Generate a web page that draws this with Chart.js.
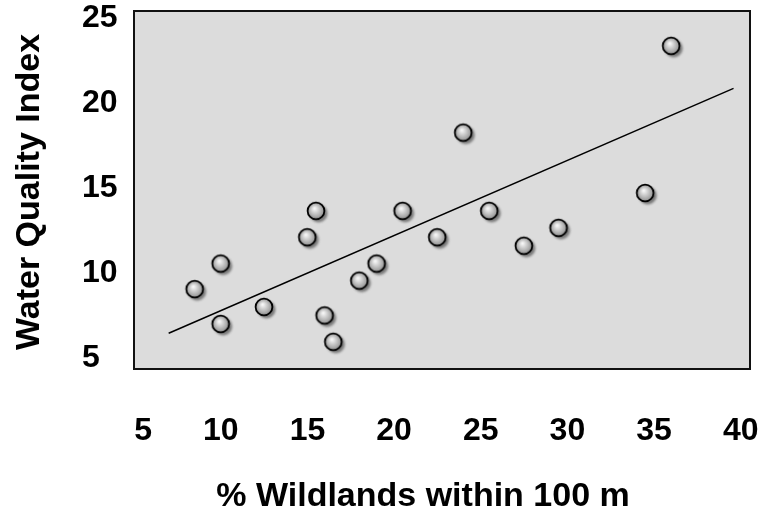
<!DOCTYPE html>
<html>
<head>
<meta charset="utf-8">
<script src="https://cdn.jsdelivr.net/npm/chart.js@4.4.1/dist/chart.umd.min.js"></script>
<style>
  body { margin: 0; background: #fff; }
  #wrap { width: 768px; height: 514px; }
</style>
</head>
<body>
<div id="wrap"><canvas id="chart"></canvas></div>
<script>
var wildlands = [8.5, 10, 10, 12.5, 15, 15.5, 16, 16.5, 18, 19, 20.5, 22.5, 24, 25.5, 27.5, 29.5, 34.5, 36];
var quality = [9.05, 10.55, 7, 8, 12.1, 13.65, 7.5, 5.95, 9.55, 10.55, 13.65, 12.1, 18.25, 13.65, 11.6, 12.65, 14.7, 23.35];
var trendX = [7, 39.6];
var trendY = [6.45, 20.85];
var xTicks = [5, 10, 15, 20, 25, 30, 35, 40];
var yTicks = [5, 10, 15, 20, 25];
var xTitle = '% Wildlands within 100 m';
var yTitle = 'Water Quality Index';

var FONT = '"Liberation Sans", Arial, sans-serif';

// shaded ball with a soft drop shadow, used as the point style
function makeBall() {
	var c = document.createElement('canvas');
	c.width = 30;
	c.height = 30;
	var g = c.getContext('2d');
	g.filter = 'blur(1px)';
	g.fillStyle = 'rgba(90,90,90,0.75)';
	g.beginPath();
	g.arc(17.5, 17.5, 9, 0, Math.PI * 2);
	g.fill();
	g.filter = 'none';
	var grad = g.createRadialGradient(13.5, 12.5, 0.5, 15, 15, 9);
	grad.addColorStop(0, '#f8f8f8');
	grad.addColorStop(1, '#8a8a8a');
	g.fillStyle = grad;
	g.beginPath();
	g.arc(15, 15, 8.4, 0, Math.PI * 2);
	g.fill();
	g.lineWidth = 1.8;
	g.strokeStyle = '#000';
	g.stroke();
	return c;
}

var points = [];
for (var i in wildlands) {
	points.push({x: wildlands[i], y: quality[i]});
}
var trend = [];
for (var j in trendX) {
	trend.push({x: trendX[j], y: trendY[j]});
}

// grey plot panel with a black frame, plus the two axis titles
var panel = {
	id: 'panel',
	beforeDatasetsDraw: function(chart) {
		var a = chart.chartArea, ctx = chart.ctx;
		ctx.save();
		ctx.fillStyle = '#dcdcdc';
		ctx.fillRect(a.left, a.top, a.right - a.left, a.bottom - a.top);
		ctx.lineWidth = 2;
		ctx.strokeStyle = '#111';
		ctx.strokeRect(a.left, a.top, a.right - a.left, a.bottom - a.top);
		ctx.restore();
	},
	afterDraw: function(chart) {
		var ctx = chart.ctx;
		ctx.save();
		ctx.fillStyle = '#000';
		ctx.textAlign = 'center';
		ctx.textBaseline = 'middle';
		ctx.font = 'bold 34px ' + FONT;
		ctx.fillText(xTitle, 423, 497);
		ctx.translate(30, 192);
		ctx.rotate(-Math.PI / 2);
		ctx.font = 'bold 34px ' + FONT;
		ctx.fillText(yTitle, 0, 0);
		ctx.restore();
	}
};

var tickFont = {family: FONT, size: 32, weight: 'bold'};

new Chart(document.getElementById('chart'), {
	type: 'scatter',
	data: {
		datasets: [
			{
				label: 'sites',
				data: points,
				pointStyle: makeBall(),
				pointRadius: 10,
				order: 1
			},
			{
				type: 'line',
				label: 'trend',
				data: trend,
				borderColor: '#000',
				borderWidth: 1.5,
				pointRadius: 0,
				fill: false,
				order: 2
			}
		]
	},
	options: {
		responsive: true,
		maintainAspectRatio: false,
		animation: false,
		layout: {padding: {left: 82, right: 18, top: 11, bottom: 0}},
		plugins: {legend: {display: false}, tooltip: {enabled: false}},
		scales: {
			x: {
				type: 'linear',
				min: 5,
				max: 40.55,
				afterBuildTicks: function(s) { s.ticks = xTicks.map(function(v) { return {value: v}; }); },
				afterFit: function(s) { s.height = 145; s.paddingLeft = 0; s.paddingRight = 0; },
				ticks: {font: tickFont, color: '#000', align: 'end', labelOffset: 18, padding: 43, maxRotation: 0, autoSkip: false},
				grid: {display: false, drawTicks: false},
				border: {display: false}
			},
			y: {
				type: 'linear',
				min: 4.35,
				max: 25.4,
				afterBuildTicks: function(s) { s.ticks = yTicks.map(function(v) { return {value: v}; }); },
				afterFit: function(s) { s.width = 52; s.paddingTop = 0; s.paddingBottom = 0; },
				ticks: {font: tickFont, color: '#000', crossAlign: 'far', padding: 0, autoSkip: false},
				grid: {display: false, drawTicks: false},
				border: {display: false}
			}
		}
	},
	plugins: [panel]
});
</script>
</body>
</html>
